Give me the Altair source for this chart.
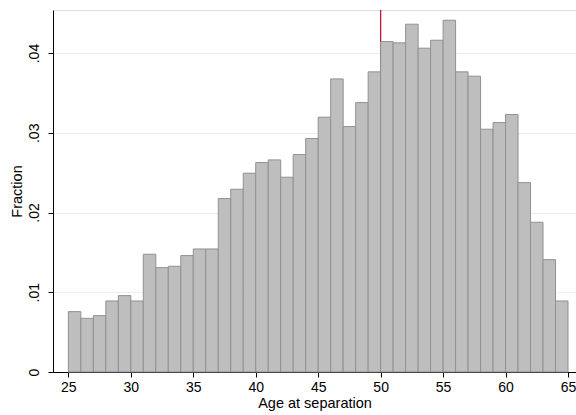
import altair as alt
import pandas as pd

ages = list(range(25, 65))
fractions = [0.00757, 0.00673, 0.00707, 0.00891, 0.00958, 0.00891, 0.01477, 0.01309,
             0.01326, 0.01460, 0.01543, 0.01543, 0.02175, 0.02292, 0.02493, 0.02627,
             0.02660, 0.02443, 0.02727, 0.02928, 0.03196, 0.03676, 0.03078, 0.03379,
             0.03764, 0.04144, 0.04128, 0.04362, 0.04061, 0.04161, 0.04412, 0.03764,
             0.03710, 0.03045, 0.03128, 0.03229, 0.02375, 0.01878, 0.01409, 0.00891]
cutoff = [50]
x_ticks = [25, 30, 35, 40, 45, 50, 55, 60, 65]
y_ticks = [0, 0.01, 0.02, 0.03, 0.04]

df = pd.DataFrame({"age": ages, "age_end": [a + 1 for a in ages], "fraction": fractions})
cut_df = pd.DataFrame({"cut": cutoff})

FONT = "Liberation Sans"
xscale = alt.Scale(domain=[23.77, 65.64], nice=False, zero=False)
yscale = alt.Scale(domain=[0, 0.0454], nice=False)

rule = alt.Chart(cut_df).mark_rule(color="#c0143c", strokeWidth=1.3).encode(
    x=alt.X("cut:Q", scale=xscale),
    y=alt.value(0),
    y2=alt.value(362),
)

bars = alt.Chart(df).mark_rect(fill="#bebebe", stroke="#919191", strokeWidth=1).encode(
    x=alt.X("age:Q", scale=xscale,
            axis=alt.Axis(values=x_ticks, title="Age at separation", grid=False,
                          domainColor="black", tickColor="black", tickSize=5,
                          labelFontSize=14, titleFontSize=14.5, labelFont=FONT, titleFont=FONT,
                          labelColor="black", titleColor="black", labelPadding=3,
                          titlePadding=2, titleFontWeight="normal")),
    x2="age_end:Q",
    y=alt.Y("fraction:Q", scale=yscale,
            axis=alt.Axis(values=y_ticks, title="Fraction", grid=True, gridColor="#e8f0f2",
                          domainColor="black", tickColor="black", tickSize=5,
                          labelAngle=270, labelAlign="center", labelBaseline="bottom",
                          labelExpr="datum.value == 0 ? '0' : replace(format(datum.value, '.2f'), '0.', '.')",
                          labelFontSize=14, titleFontSize=14.5, labelFont=FONT, titleFont=FONT,
                          labelColor="black", titleColor="black", labelPadding=7,
                          titlePadding=3, titleFontWeight="normal")),
    y2=alt.datum(0),
)

chart = alt.layer(rule, bars).properties(
    width=523, height=362,
    autosize=alt.AutoSizeParams(type="none"),
    padding={"left": 53, "top": 10, "right": 0, "bottom": 43},
).configure_view(stroke=None).configure(background="white")

chart.save("out.html", embed_options={"renderer": "svg", "actions": False})
